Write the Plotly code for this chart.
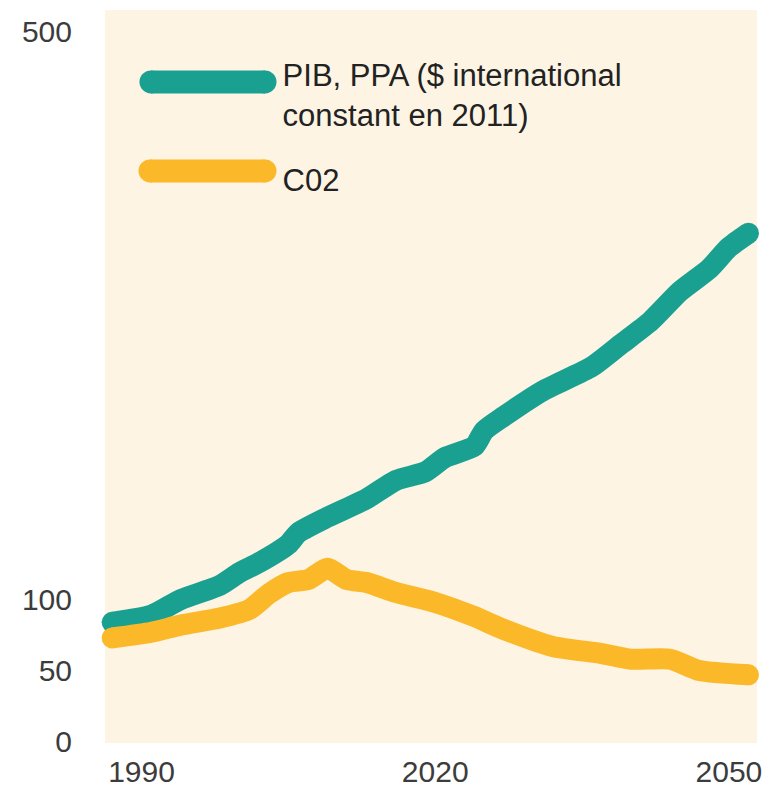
import plotly.graph_objects as go

# Index series (base around 100 in 1990)
years_gdp = [1987, 1991, 1994, 1998, 2000, 2002, 2005, 2006, 2009, 2013, 2016, 2019,
             2021, 2024, 2025, 2027, 2031, 2036, 2039, 2042, 2045, 2048, 2050, 2052]
gdp_index = [84, 89, 100, 110, 119, 126, 139, 147, 158, 171, 184, 190,
             200, 208, 219, 229, 247, 264, 280, 296, 317, 333, 348, 358]

years_co2 = [1987, 1991, 1994, 1998, 2001, 2003, 2005, 2007, 2009, 2011, 2013, 2016,
             2020, 2024, 2027, 2032, 2037, 2040, 2044, 2047, 2052]
co2_index = [73, 77, 82, 87, 93, 104, 112, 114, 122, 114, 112, 105,
             98, 88, 79, 67, 62, 58, 58, 50, 47]

x_ticks = [1990, 2020, 2050]
y_ticks = [0, 50, 100, 500]

name_gdp = "PIB, PPA ($ international<br>constant en 2011)"
name_co2 = "C02"

TEAL = "#1aa090"
GOLD = "#fbb829"
LINE_W = 21
SWATCH_W = 23


def cap_sizes(n):
    # round ends: a dot only on the first and last point
    return [LINE_W] + [0] * (n - 2) + [LINE_W]


fig = go.Figure()
for xs, ys, col in [(years_gdp, gdp_index, TEAL), (years_co2, co2_index, GOLD)]:
    fig.add_trace(go.Scatter(
        x=xs, y=ys, mode="lines+markers", showlegend=False, hoverinfo="x+y",
        cliponaxis=False,
        line=dict(color=col, width=LINE_W, shape="spline", smoothing=0.6),
        marker=dict(color=col, opacity=1, size=cap_sizes(len(xs)), line=dict(width=0)),
    ))

# legend entries: text only, the thick rounded swatches are drawn as shapes
for name, grp in [(name_gdp, "gdp"), (name_co2, "co2")]:
    fig.add_trace(go.Scatter(
        x=[None], y=[None], mode="lines", name=name, legendgroup=grp,
        line=dict(color="rgba(0,0,0,0)", width=1),
    ))


def pill(y_paper, x0_paper, x1_paper, color):
    # horizontal bar with round ends, thickness in pixels
    r = SWATCH_W / 2
    out = [dict(type="line", xref="paper", yref="paper", x0=x0_paper, x1=x1_paper,
                y0=y_paper, y1=y_paper, line=dict(color=color, width=SWATCH_W))]
    for xa in (x0_paper, x1_paper):
        out.append(dict(type="circle", xref="paper", yref="paper",
                        xsizemode="pixel", ysizemode="pixel",
                        xanchor=xa, yanchor=y_paper,
                        x0=-r, x1=r, y0=-r, y1=r,
                        fillcolor=color, line=dict(width=0)))
    return out


shapes = pill(0.9018, 0.0705, 0.2454, TEAL) + pill(0.7804, 0.0690, 0.2454, GOLD)

fig.update_layout(
    width=778, height=791,
    margin=dict(l=105, r=21, t=10, b=48),
    paper_bgcolor="white",
    plot_bgcolor="#fdf4e4",
    font=dict(family="Liberation Sans, Arial, sans-serif", size=30, color="#3c3c3c"),
    shapes=shapes,
    showlegend=True,
    legend=dict(
        x=0.0577, y=0.9495, xanchor="left", yanchor="top",
        bgcolor="rgba(0,0,0,0)", borderwidth=0,
        itemwidth=130, valign="top", tracegroupgap=22,
        font=dict(family="Liberation Sans, Arial, sans-serif", size=31, color="#222222"),
        traceorder="grouped",
    ),
)
fig.update_xaxes(
    range=[1986.27, 2052.87], tickvals=x_ticks, automargin=False,
    showgrid=False, zeroline=False, showline=False,
    ticks="outside", ticklen=2, tickcolor="rgba(0,0,0,0)",
)
fig.update_yaxes(
    range=[-1, 515.2], tickvals=y_ticks, automargin=False,
    showgrid=False, zeroline=False, showline=False,
    ticks="outside", ticklen=26, tickcolor="rgba(0,0,0,0)",
)

fig.write_html("out.html")
